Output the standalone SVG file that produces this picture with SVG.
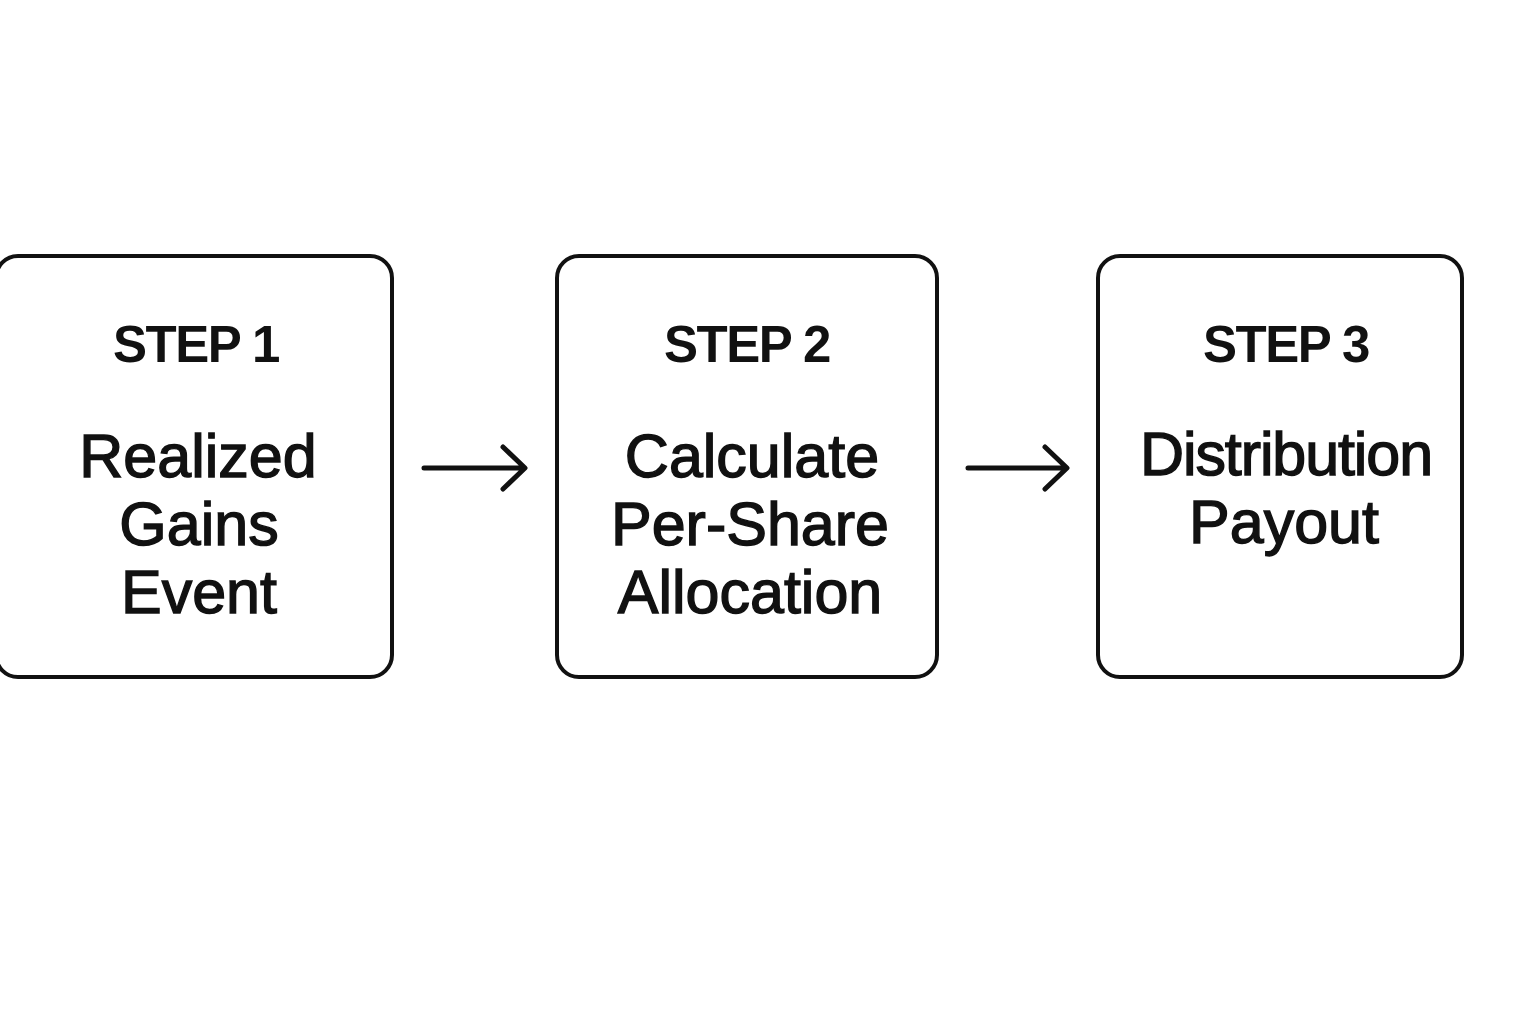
<svg xmlns="http://www.w3.org/2000/svg" width="1536" height="1024" viewBox="0 0 1536 1024">
<style>
.box{fill:#fff;stroke:#111;stroke-width:4}
.step{font-family:"Liberation Sans",Arial,sans-serif;font-weight:700;font-size:51px;fill:#111;text-anchor:middle;letter-spacing:-1.5px}
.lbl{font-family:"Liberation Sans",Arial,sans-serif;font-weight:400;font-size:61px;fill:#111;stroke:#111;stroke-width:1.4;text-anchor:middle}
.conn{fill:none;stroke:#111;stroke-width:5;stroke-linecap:round;stroke-linejoin:round}
</style>
<rect width="1536" height="1024" fill="#fff"/>
<g id="step1">
<rect class="box" x="-4" y="256" width="396" height="421" rx="22"/>
<text class="step" x="196" y="362">STEP 1</text>
<text class="lbl" x="198" y="477">Realized</text>
<text class="lbl" x="199" y="545">Gains</text>
<text class="lbl" x="199" y="613">Event</text>
</g>
<g id="step2">
<rect class="box" x="557" y="256" width="380" height="421" rx="22"/>
<text class="step" x="747" y="362">STEP 2</text>
<text class="lbl" x="752" y="477">Calculate</text>
<text class="lbl" x="750" y="545">Per-Share</text>
<text class="lbl" x="750" y="613">Allocation</text>
</g>
<g id="step3">
<rect class="box" x="1098" y="256" width="364" height="421" rx="22"/>
<text class="step" x="1286" y="362">STEP 3</text>
<text class="lbl" x="1286" y="475" letter-spacing="-1.1">Distribution</text>
<text class="lbl" x="1284" y="543">Payout</text>
</g>
<g id="connectors">
<path class="conn" d="M424 468 H524 M503 447 L525 468 L503 489"/>
<path class="conn" d="M968 468 H1066 M1045 447 L1067 468 L1045 489"/>
</g>
</svg>
